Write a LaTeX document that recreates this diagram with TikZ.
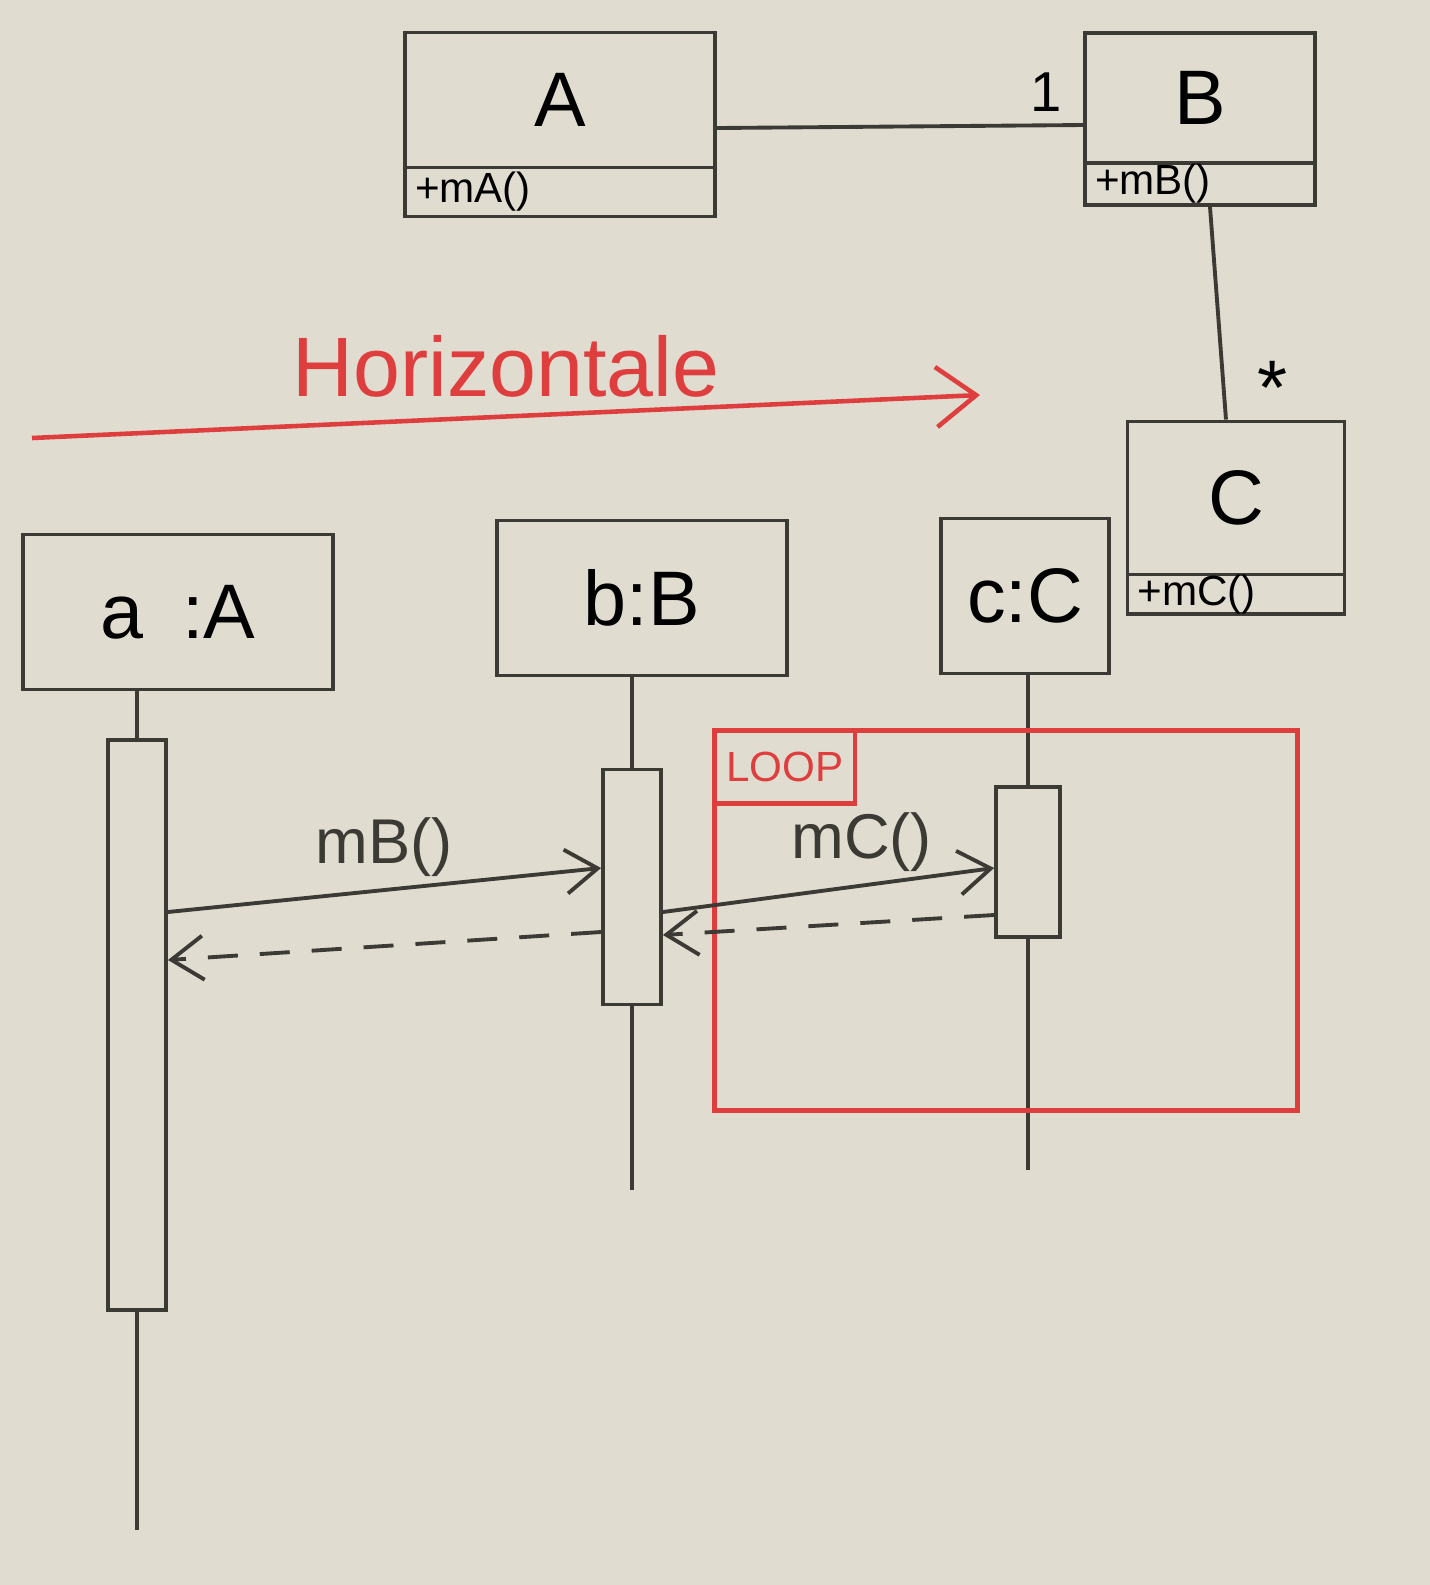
\documentclass[tikz,border=0pt]{standalone}
\usepackage{fontspec}
\setmainfont{Liberation Sans}
\usetikzlibrary{positioning,arrows.meta}
\definecolor{board}{RGB}{224,220,208}
\definecolor{marker}{RGB}{60,58,52}
\definecolor{redmarker}{RGB}{222,62,62}
\begin{document}
\begin{tikzpicture}[
        x=0.1mm, y=-0.1mm,
        pen/.style={draw=marker, line width=1.1pt},
        classname/.style={pen, rectangle, minimum width=31mm, inner sep=0pt, font=\fontsize{22}{26}\selectfont},
        classop/.style={pen, rectangle, minimum width=31mm, minimum height=4.9mm, inner sep=0pt, text width=29mm, align=left, font=\fontsize{12}{13}\selectfont},
        object/.style={pen, rectangle, inner sep=0pt, font=\fontsize{22}{26}\selectfont},
        activation/.style={pen, rectangle, minimum width=5.8mm, inner sep=0pt},
        lifeline/.style={draw=marker, line width=1pt},
        msg/.style={draw=marker, line width=1.1pt, -{Straight Barb[length=3.2mm, width=4.4mm, line width=1.1pt]}},
        reply/.style={msg, dashed, dash pattern=on 3mm off 2.2mm},
        msglabel/.style={font=\fontsize{18}{20}\selectfont, text=marker},
        loopframe/.style={draw=redmarker, line width=1.3pt, rectangle, inner sep=0pt},
        looplabel/.style={draw=redmarker, line width=1.3pt, rectangle, text=redmarker, minimum width=10.8mm, minimum height=7.3mm, font=\fontsize{12}{14}\selectfont}
    ]
        \fill[board] (0,0) rectangle (1430,1585);
        \useasboundingbox (0,0) rectangle (1430,1585);

        % === Class diagram ===
        \node[classname, minimum height=13.5mm] (A) at (560,100) {A};
        \node[classop, below=-1.1pt of A] (Aop) {+mA()};
        \node[classname, minimum width=23mm, minimum height=13mm] (B) at (1200,98) {B};
        \node[classop, minimum width=23mm, text width=21mm, minimum height=4.2mm, below=-1.1pt of B] (Bop) {+mB()};
        \node[classname, minimum width=21.7mm, minimum height=15.3mm] (C) at (1236,498) {C};
        \node[classop, minimum width=21.7mm, text width=19.7mm, minimum height=3.9mm, below=-1.1pt of C] (Cop) {+mC()};
        \draw[pen] ([yshift=-2.8mm]A.east) -- node[pos=0.9, above, font=\fontsize{16}{18}\selectfont] {1} ([yshift=-2.7mm]B.west);
        \draw[pen] ([xshift=1mm]Bop.south) -- node[pos=0.85, right=2mm, font=\fontsize{22}{24}\selectfont] {*} ([xshift=-1mm]C.north);

        % === Horizontal axis ===
        \coordinate (hstart) at (32,438);
        \coordinate (hend) at (980,395);
        \draw[draw=redmarker, line width=1.3pt, -{Straight Barb[length=4mm, width=6mm, line width=1.3pt]}] (hstart) -- node[pos=0.5, above=0.5mm, text=redmarker, font=\fontsize{24}{28}\selectfont] {Horizontale} (hend);

        % === Objects and lifelines ===
        \node[object, minimum width=31mm, minimum height=15.5mm] (a) at (178,612) {a\enspace:A};
        \node[object, minimum width=29mm, minimum height=15.5mm] (b) at (642,598) {b:B};
        \node[object, minimum width=16.8mm, minimum height=15.5mm] (c) at (1025,596) {c:C};
        \node[activation, minimum height=57mm] (actA) at (137,1025) {};
        \node[activation, minimum height=23.5mm] (actB) at (632,887) {};
        \node[activation, minimum width=6.4mm, minimum height=15mm] (actC) at (1028,862) {};
        \coordinate (endA) at (110,1530);
        \coordinate (endB) at (625,1190);
        \coordinate (endC) at (1035,1170);
        \draw[lifeline] (actA.north |- a.south) -- (actA.north);
        \draw[lifeline] (actA.south) -- (actA.south |- endA);
        \draw[lifeline] (actB.north |- b.south) -- (actB.north);
        \draw[lifeline] (actB.south) -- (actB.south |- endB);
        \draw[lifeline] (actC.north |- c.south) -- (actC.north);
        \draw[lifeline] (actC.south) -- (actC.south |- endC);

        % === Loop fragment ===
        \node[loopframe, minimum width=58.3mm, minimum height=38mm, anchor=north west] (loop) at (712,728) {};
        \node[looplabel, anchor=north west] (looptag) at (loop.north west) {LOOP};

        % === Messages ===
        \draw[msg] (actA.east |- 0,912) -- node[msglabel, pos=0.5, above] {mB()} (actB.west |- 0,868);
        \draw[reply] (actB.west |- 0,932) -- (actA.east |- 0,960);
        \draw[msg] (actB.east |- 0,912) -- node[msglabel, pos=0.6, above] {mC()} (actC.west |- 0,868);
        \draw[reply] (actC.west |- 0,915) -- (actB.east |- 0,935);
    \end{tikzpicture}
\end{document}
